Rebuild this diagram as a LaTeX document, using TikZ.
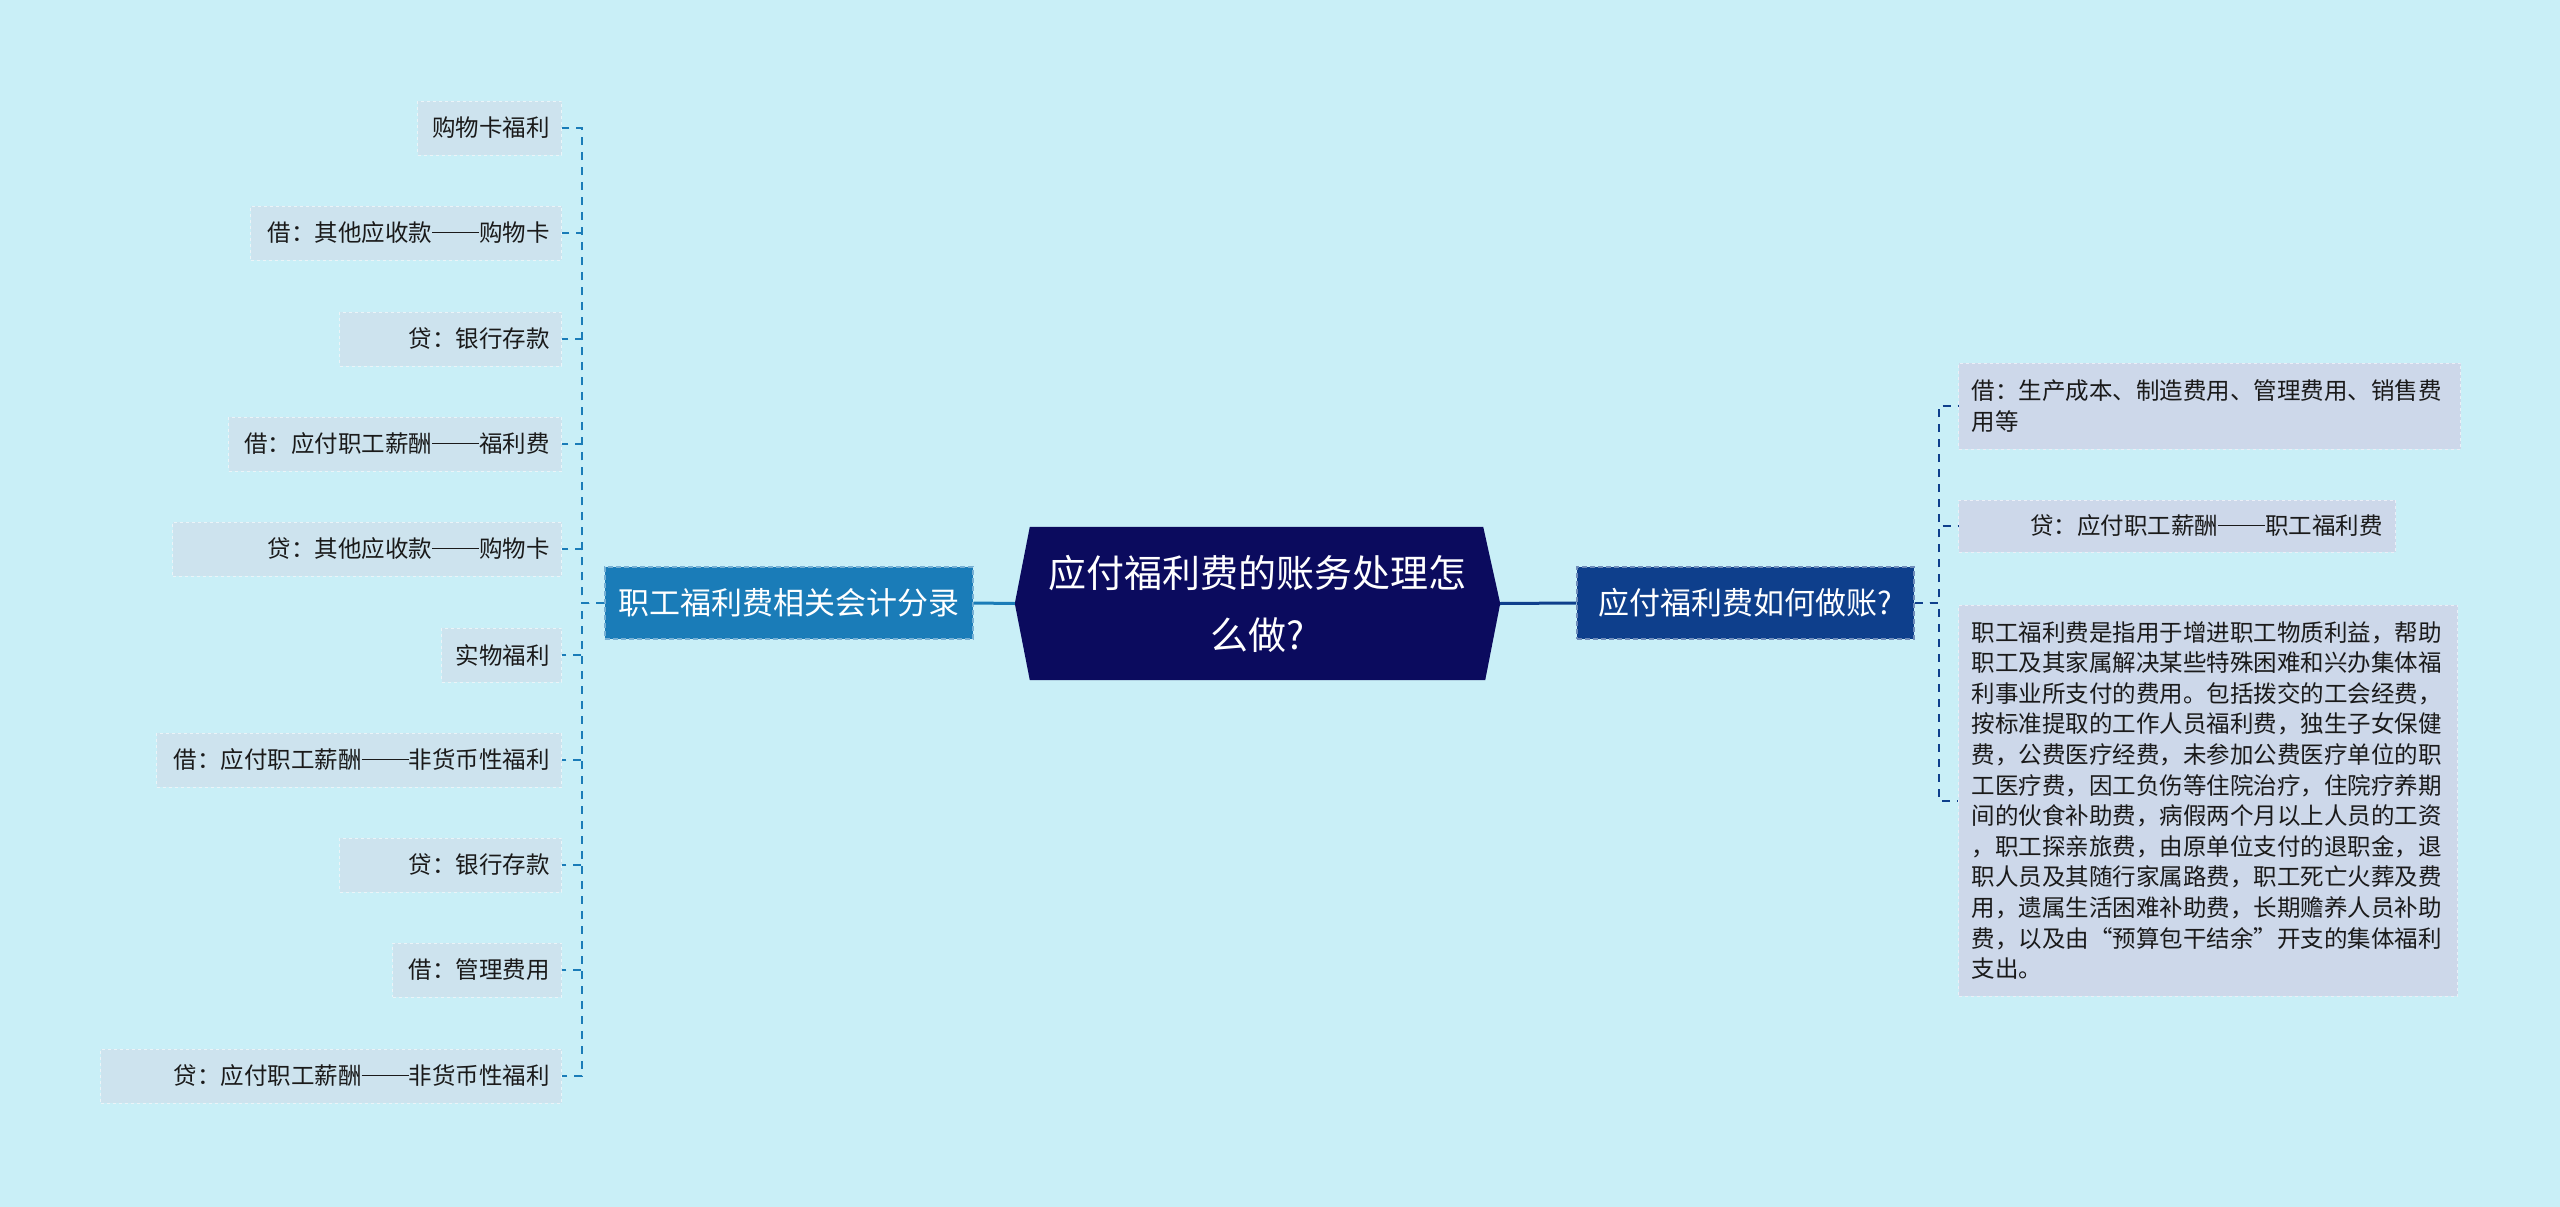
\documentclass[tikz,border=0pt]{standalone}
\usepackage{fontspec}
\setmainfont{Noto Sans CJK SC}
\usetikzlibrary{calc,backgrounds}
\definecolor{bg}{HTML}{C9EFF7}
\definecolor{navy}{HTML}{0B0B5E}
\definecolor{lblue}{HTML}{1A7CB8}
\definecolor{rblue}{HTML}{0E3F8C}
\definecolor{lfill}{HTML}{CDE3EE}
\definecolor{rfill}{HTML}{CDD8EA}
\definecolor{ltxt}{HTML}{1A1A1A}
\newcommand{\dd}{\rule[0.36em]{2em}{0.065em}}
\begin{document}
\begin{tikzpicture}[x=1pt,y=-1pt,
  branch/.style={inner sep=0pt, text=white, dashed, line width=1.2pt, dash pattern=on 5pt off 3pt,
    font=\fontsize{31}{36}\selectfont},
  leafL/.style={fill=lfill, draw=lfill!40!white, dashed, line width=1pt, anchor=east,
    minimum height=54pt, inner xsep=12pt, inner ysep=0pt, text=ltxt,
    font=\fontsize{23.5}{30}\selectfont},
  leafR/.style={fill=rfill, draw=rfill!40!white, dashed, line width=1pt, anchor=west,
    inner xsep=13pt, inner ysep=0pt, text=ltxt, font=\fontsize{23.5}{30.6}\selectfont},
  lconn/.style={lblue, line width=2pt, dash pattern=on 8pt off 7pt},
  rconn/.style={rblue, line width=2pt, dash pattern=on 8pt off 7pt}]
\useasboundingbox (0,0) rectangle (2560,1207);
\begin{scope}[on background layer]
\fill[bg] (0,0) rectangle (2560,1207);
\end{scope}

% central topic
\node[inner sep=0pt, minimum width=485pt, minimum height=153pt, align=center, text=white,
  font=\fontsize{38}{62}\selectfont] (c) at (1257.5,603.5) {应付福利费的账务处理怎\\么做?};
\begin{scope}[on background layer]
\fill[navy] ($(c.north west)+(15,0)$) -- ($(c.north east)+(-17,0)$) -- (c.east)
  -- ($(c.south east)+(-15,0)$) -- ($(c.south west)+(15,0)$) -- (c.west) -- cycle;
\end{scope}

% branches
\node[branch, fill=lblue, draw=lblue!60!white, minimum width=368pt, minimum height=72pt] (l) at (789,603) {职工福利费相关会计分录};
\node[branch, fill=rblue, draw=rblue!60!white, minimum width=337pt, minimum height=72pt] (r) at (1745.5,603) {应付福利费如何做账?};

\draw[lblue, line width=3pt] (c.west) -- (l.east);
\draw[rblue, line width=3pt] (c.east) -- (r.west);

% left leaves
\newcommand{\leafL}[4]{\node[leafL] (#1) at (562,#2) {\makebox[\dimexpr#3pt-24pt\relax][r]{#4}};}
\leafL{L1}{128}{144}{购物卡福利}
\leafL{L2}{233}{311}{借：其他应收款\dd 购物卡}
\leafL{L3}{339}{222}{贷：银行存款}
\leafL{L4}{444}{333}{借：应付职工薪酬\dd 福利费}
\leafL{L5}{549}{389}{贷：其他应收款\dd 购物卡}
\leafL{L6}{655}{120}{实物福利}
\leafL{L7}{760}{405}{借：应付职工薪酬\dd 非货币性福利}
\leafL{L8}{865}{222}{贷：银行存款}
\leafL{L9}{970}{169}{借：管理费用}
\leafL{L10}{1076}{461}{贷：应付职工薪酬\dd 非货币性福利}

\foreach \n in {L1,L2,L3,L4,L5,L6,L7,L8,L9,L10}
  \draw[lconn] (l.west) -- ++(-22,0) |- (\n.east);

% right leaves
\node[leafR, minimum height=86pt, text width=476pt, align=left] (R1) at (1958,406)
  {借：生产成本、制造费用、管理费用、销售费\\用等};
\node[leafR, minimum height=52pt] (R2) at (1958,526)
  {\makebox[411pt][r]{贷：应付职工薪酬\dd 职工福利费}};
\node[leafR, minimum height=391pt, text width=473pt, align=left] (R3) at (1958,800.5)
  {职工福利费是指用于增进职工物质利益，帮助\\
   职工及其家属解决某些特殊困难和兴办集体福\\
   利事业所支付的费用。包括拨交的工会经费，\\
   按标准提取的工作人员福利费，独生子女保健\\
   费，公费医疗经费，未参加公费医疗单位的职\\
   工医疗费，因工负伤等住院治疗，住院疗养期\\
   间的伙食补助费，病假两个月以上人员的工资\\
   ，职工探亲旅费，由原单位支付的退职金，退\\
   职人员及其随行家属路费，职工死亡火葬及费\\
   用，遗属生活困难补助费，长期赡养人员补助\\
   费，以及由“预算包干结余”开支的集体福利\\
   支出。};

\foreach \n in {R1,R2,R3}
  \draw[rconn] (r.east) -- ++(24,0) |- (\n.west);
\end{tikzpicture}
\end{document}
